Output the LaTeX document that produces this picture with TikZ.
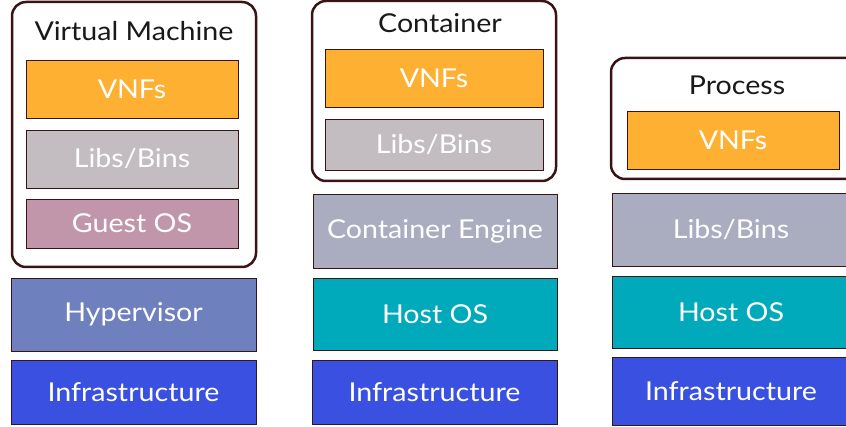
\documentclass[tikz,border=0pt]{standalone}
\usepackage{fontspec}
\setmainfont{Lato}[FakeStretch=1.1]
\definecolor{edgebrown}{HTML}{3A1414}
\definecolor{vnforange}{HTML}{FDB032}
\definecolor{libgrey}{HTML}{C3BCC0}
\definecolor{guestmauve}{HTML}{C296AA}
\definecolor{hyperblue}{HTML}{6F80BF}
\definecolor{infrablue}{HTML}{3A50E0}
\definecolor{enginegrey}{HTML}{A9ADBF}
\definecolor{hostteal}{HTML}{00AABB}
\tikzset{
  layer/.style={draw=edgebrown, line width=0.8pt, text=white, inner sep=0pt,
    font=\fontsize{26}{26}\selectfont},
  frame/.style={draw=edgebrown, line width=2.5pt, rounded corners=14pt, fill=white, inner sep=0pt},
  title/.style={text=black!90, inner sep=0pt, font=\fontsize{26}{26}\selectfont}
}
\begin{document}
\begin{tikzpicture}[x=1pt,y=-1pt]
  \useasboundingbox (0,0) rectangle (846,427);

  %%%%% virtual machine %%%%%
  \node[frame, minimum width=244, minimum height=265] (vm) at (134,134.5) {};
  \node[title] (vmtitle) at (134,31) {Virtual Machine};
  \node[layer, fill=vnforange, minimum width=212, minimum height=58] (vmvnf) at (132,89) {VNFs};
  \node[layer, fill=libgrey, minimum width=212, minimum height=58] (vmlib) at (132,159) {Libs/Bins};
  \node[layer, fill=guestmauve, minimum width=212, minimum height=49] (guest) at (132,223.5) {Guest OS};
  \node[layer, fill=hyperblue, minimum width=245, minimum height=73] (hyper) at (133.5,314.5) {Hypervisor};
  \node[layer, fill=infrablue, minimum width=245, minimum height=64] (vminfra) at (133.5,392) {Infrastructure};

  %%%%% container %%%%%
  \node[frame, minimum width=244, minimum height=180] (ct) at (434,91) {};
  \node[title] (cttitle) at (440,23) {Container};
  \node[layer, fill=vnforange, minimum width=218, minimum height=58] (ctvnf) at (434,78) {VNFs};
  \node[layer, fill=libgrey, minimum width=218, minimum height=51] (ctlib) at (434,144.5) {Libs/Bins};
  \node[layer, fill=enginegrey, minimum width=244, minimum height=74] (engine) at (435,231) {Container Engine};
  \node[layer, fill=hostteal, minimum width=244, minimum height=72] (cthost) at (435,314) {Host OS};
  \node[layer, fill=infrablue, minimum width=245, minimum height=64] (ctinfra) at (434.5,392) {Infrastructure};

  %%%%% process %%%%%
  \node[frame, minimum width=250, minimum height=121] (pr) at (736,118.5) {};
  \node[title] (prtitle) at (737,85) {Process};
  \node[layer, fill=vnforange, minimum width=212, minimum height=58] (prvnf) at (733,140) {VNFs};
  \node[layer, fill=enginegrey, minimum width=238, minimum height=73] (prlib) at (731,229.5) {Libs/Bins};
  \node[layer, fill=hostteal, minimum width=238, minimum height=72] (prhost) at (731,312) {Host OS};
  \node[layer, fill=infrablue, minimum width=238, minimum height=68] (prinfra) at (731,391) {Infrastructure};
\end{tikzpicture}
\end{document}
